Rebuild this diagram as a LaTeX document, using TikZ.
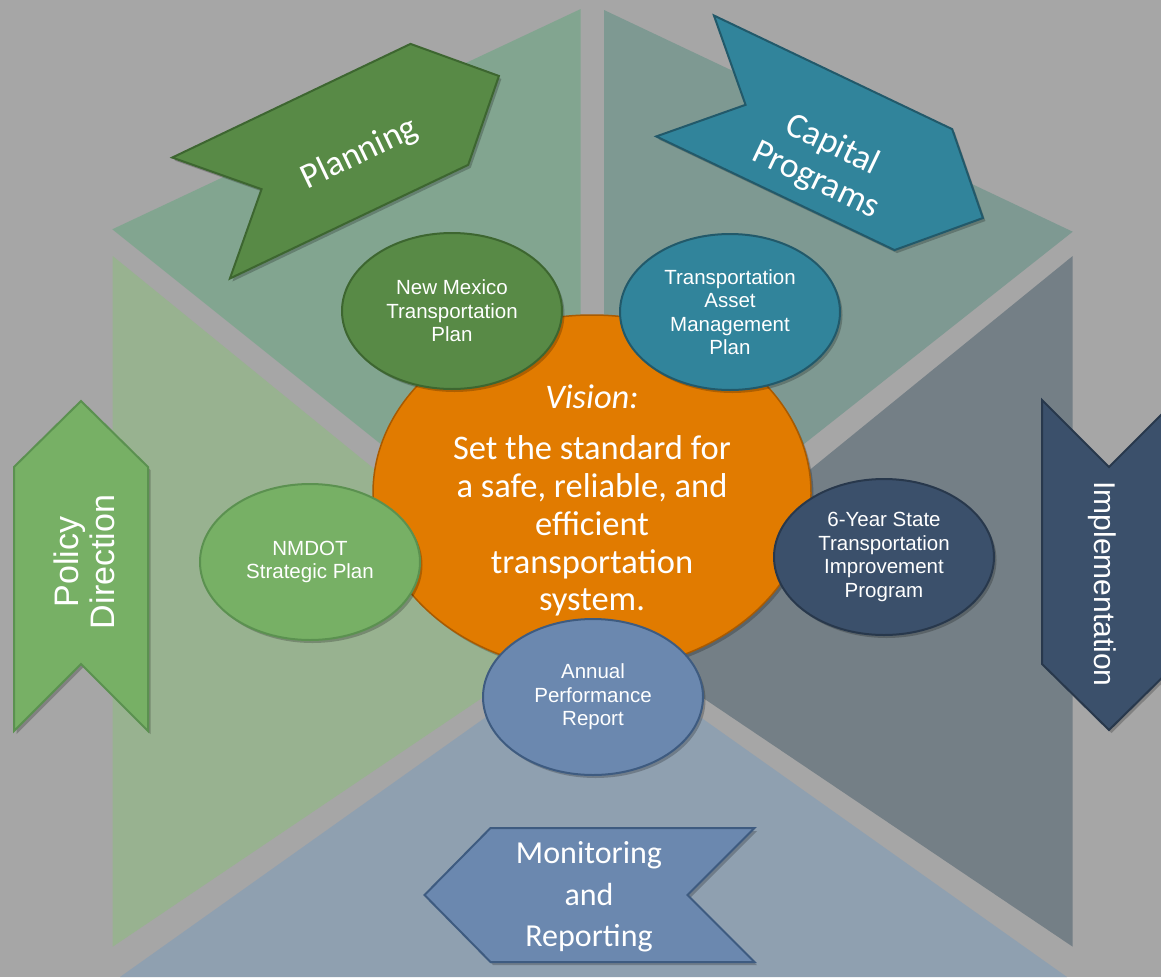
\documentclass[tikz,border=0pt]{standalone}
\usepackage{fontspec}
\newfontfamily\calibri{Carlito}
\newfontfamily\arial{Liberation Sans}
\usetikzlibrary{shapes.geometric,shadows}

\definecolor{bggray}{HTML}{A6A6A6}
\definecolor{planpanel}{HTML}{82A590}
\definecolor{cappanel}{HTML}{7E9992}
\definecolor{polpanel}{HTML}{98B290}
\definecolor{implpanel}{HTML}{747F86}
\definecolor{monpanel}{HTML}{8FA0B0}
\definecolor{planfill}{HTML}{588A46}
\definecolor{planline}{HTML}{3D6630}
\definecolor{capfill}{HTML}{31849B}
\definecolor{capline}{HTML}{22596A}
\definecolor{polfill}{HTML}{77B065}
\definecolor{polline}{HTML}{5B9150}
\definecolor{implfill}{HTML}{3B506B}
\definecolor{implline}{HTML}{28384C}
\definecolor{monfill}{HTML}{6B88AF}
\definecolor{monline}{HTML}{3E5B80}
\definecolor{hubfill}{HTML}{E17B00}
\definecolor{hubline}{HTML}{A95A00}

\newcommand{\chevronshape}{(-165,-67) -- (99,-67) -- (165,0) -- (99,67) -- (-165,67) -- (-98,0) -- cycle}

\begin{document}
\begin{tikzpicture}[x=1pt,y=-1pt,
  softshadow/.style={drop shadow={shadow xshift=2.5pt,shadow yshift=-3pt,opacity=.22,fill=black}},
  chev/.style={line width=2pt,line join=miter,softshadow},
  chevtext/.style={text=white,align=center,font=\calibri\fontsize{35.5}{39}\selectfont},
  sidetext/.style={text=white,align=center,font=\arial\fontsize{34}{36}\selectfont},
  bubble/.style={ellipse,minimum width=220pt,minimum height=156pt,inner sep=0pt,line width=2pt,
    text=white,align=center,font=\arial\fontsize{20.5}{23.5}\selectfont,softshadow}]
  \useasboundingbox (0,0) rectangle (1161,977);
  \clip (0,0) rectangle (1161,977);
  \fill[bggray] (0,0) rectangle (1161,977);

  \fill[planpanel] (112.3,229.3) -- (580.7,9) -- (580.7,604) -- cycle;
  \fill[cappanel] (604,10) -- (1072.7,231.7) -- (604,602) -- cycle;
  \fill[polpanel] (112.7,256) -- (577,634) -- (112.7,946.7) -- cycle;
  \fill[implpanel] (1072.7,256) -- (608,634) -- (1072.7,946.7) -- cycle;
  \fill[monpanel] (593,641) -- (1067,977) -- (120,977) -- cycle;

  \filldraw[chev,fill=planfill,draw=planline,shift={(350,147)},rotate=25.5] \chevronshape;
  \filldraw[chev,fill=capfill,draw=capline,shift={(834,147)},rotate=-25.5] \chevronshape;
  \filldraw[chev,fill=polfill,draw=polline,shift={(81,566)},rotate=90] \chevronshape;
  \filldraw[chev,fill=implfill,draw=implline,shift={(1109,565)},rotate=-90] \chevronshape;
  \filldraw[chev,fill=monfill,draw=monline,shift={(589.5,895)},rotate=180] \chevronshape;

  \node[chevtext,rotate=25.5] (planning) at (360,154) {Planning};
  \node[chevtext,rotate=-25.5] (capital) at (824,163) {Capital\\Programs};
  \node[sidetext,rotate=90] (policy) at (84,562) {Policy\\Direction};
  \node[sidetext,font=\arial\fontsize{30}{34}\selectfont,rotate=-90] (implement) at (1102,584) {Implementation};
  \node[chevtext,font=\calibri\fontsize{32}{41.5}\selectfont] (monitor) at (589,897) {Monitoring\\and\\Reporting};

  \node[ellipse,minimum width=438pt,minimum height=356pt,fill=hubfill,draw=hubline,line width=1.5pt,softshadow] (hub) at (592,493) {};
  \node[text=white,font=\calibri\itshape\fontsize{34.5}{38}\selectfont] (vision) at (592,397) {Vision:};
  \node[text=white,align=center,font=\calibri\fontsize{34.5}{37.8}\selectfont] (visiontext) at (592,526)
    {Set the standard for\\a safe, reliable, and\\efficient\\transportation\\system.};

  \node[bubble,fill=planfill,draw=planline] (nmtp) at (452,311) {New Mexico\\Transportation\\Plan};
  \node[bubble,fill=capfill,draw=capline] (tamp) at (730,312) {Transportation\\Asset\\Management\\Plan};
  \node[bubble,fill=polfill,draw=polline] (nmdot) at (310,562) {NMDOT\\Strategic Plan};
  \node[bubble,fill=implfill,draw=implline] (stip) at (884,557) {6-Year State\\Transportation\\Improvement\\Program};
  \node[bubble,fill=monfill,draw=monline] (apr) at (593,697) {Annual\\Performance\\Report};
\end{tikzpicture}
\end{document}
